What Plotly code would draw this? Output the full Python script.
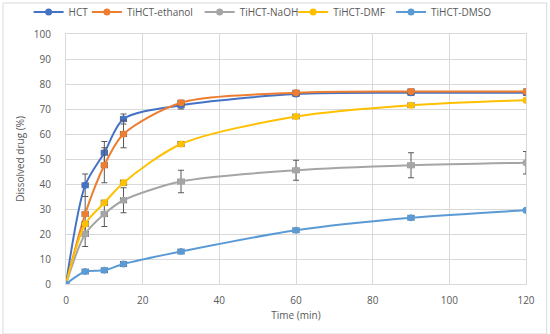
import plotly.graph_objects as go

time = [0, 5, 10, 15, 30, 60, 90, 120]

hct = [0, 39.5, 52.5, 66.0, 71.5, 76.0, 76.5, 76.5]
hct_err = [0, 4.5, 4.5, 2.0, 1.5, 1.0, 1.0, 1.0]

ethanol = [0, 28.0, 47.5, 60.0, 72.5, 76.5, 77.0, 77.0]
ethanol_err = [0, 7.0, 7.0, 5.5, 1.0, 1.0, 1.0, 1.0]

naoh = [0, 20.0, 28.0, 33.5, 41.0, 45.5, 47.5, 48.5]
naoh_err = [0, 5.0, 5.0, 5.0, 4.5, 4.0, 5.0, 4.5]

dmf = [0, 24.0, 32.5, 40.5, 56.0, 67.0, 71.5, 73.5]
dmf_err = [0, 1.0, 1.0, 1.0, 1.0, 0.8, 0.8, 0.8]

dmso = [0, 5.0, 5.5, 8.0, 13.0, 21.5, 26.5, 29.5]
dmso_err = [0, 0.8, 0.8, 0.8, 0.8, 0.8, 0.8, 0.5]

time_err = [0, 0.8, 0.8, 0.8, 0.8, 0.8, 0.8, 0]

series = [
    ("HCT", hct, hct_err, "#4472C4"),
    ("TiHCT-ethanol", ethanol, ethanol_err, "#ED7D31"),
    ("TiHCT-NaOH", naoh, naoh_err, "#A5A5A5"),
    ("TiHCT-DMF", dmf, dmf_err, "#FFC000"),
    ("TiHCT-DMSO", dmso, dmso_err, "#5B9BD5"),
]

# legend entry left positions (container fraction)
legend_x = [0.052, 0.158, 0.363, 0.533, 0.711]
legend_names = ["legend", "legend2", "legend3", "legend4", "legend5"]

fig = go.Figure()
for (name, ys, err, color), lg in zip(series, legend_names):
    fig.add_trace(go.Scatter(
        x=time, y=ys, name=name, mode="lines+markers", legend=lg,
        line=dict(color=color, width=2, shape="spline", smoothing=0.8),
        marker=dict(color=color, size=7, symbol="circle"),
        error_y=dict(type="data", array=err, visible=True, color="#595959", thickness=1, width=3),
        error_x=dict(type="data", array=time_err, visible=True, color="#595959", thickness=1, width=3),
    ))

fig.add_shape(type="rect", xref="paper", yref="paper",
              x0=-0.137, x1=1.045, y0=-0.2, y1=1.124,
              line=dict(color="#D9D9D9", width=1), fillcolor="rgba(0,0,0,0)")

legend_common = dict(orientation="h", xref="container", xanchor="left",
                     yref="container", y=0.964, yanchor="middle",
                     font=dict(size=10, color="#595959"), itemwidth=30,
                     bgcolor="rgba(0,0,0,0)", borderwidth=0)

layout_legends = {lg: dict(legend_common, x=lx) for lg, lx in zip(legend_names, legend_x)}

fig.update_layout(
    width=550, height=334,
    margin=dict(l=66, r=24, t=34, b=50, autoexpand=False),
    paper_bgcolor="white", plot_bgcolor="white",
    font=dict(family="Open Sans, DejaVu Sans, sans-serif", size=10, color="#595959"),
    showlegend=True,
    **layout_legends,
    xaxis=dict(range=[0, 120], dtick=20, showgrid=True, gridcolor="#D9D9D9", gridwidth=1,
               zeroline=False, showline=True, linecolor="#D9D9D9", mirror=True,
               automargin=False, ticklabelstandoff=7,
               ticks="", title=dict(text="Time (min)", standoff=5, font=dict(size=10)),
               tickfont=dict(size=10)),
    yaxis=dict(range=[0, 100], dtick=10, showgrid=True, gridcolor="#D9D9D9", gridwidth=1,
               zeroline=False, showline=True, linecolor="#D9D9D9", mirror=True,
               automargin=False, ticklabelstandoff=12,
               ticks="", title=dict(text="Dissolved drug (%)", standoff=7, font=dict(size=10)),
               tickfont=dict(size=10)),
)

fig.write_html("out.html", config={"displayModeBar": False},
               post_script="document.body.style.margin='0';")
